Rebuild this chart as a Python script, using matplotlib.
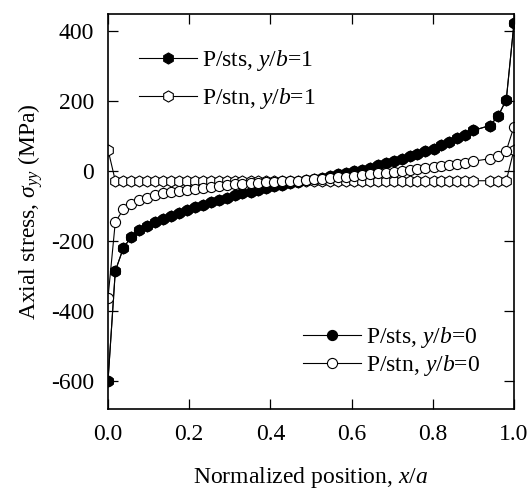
import matplotlib
matplotlib.use("Agg")
import matplotlib.pyplot as plt

plt.rcParams['font.family'] = ['Liberation Serif', 'DejaVu Serif']
plt.rcParams['mathtext.fontset'] = 'custom'
plt.rcParams['mathtext.rm'] = 'Liberation Serif'
plt.rcParams['mathtext.it'] = 'Liberation Serif:italic'
plt.rcParams['axes.unicode_minus'] = False

# normalized position x/a
x_pos = [0.0, 0.018, 0.038, 0.057, 0.077, 0.096, 0.116, 0.136, 0.155, 0.175,
         0.194, 0.214, 0.233, 0.253, 0.273, 0.292, 0.312, 0.331, 0.351, 0.370,
         0.390, 0.410, 0.429, 0.449, 0.468, 0.488, 0.508, 0.527, 0.547, 0.566,
         0.586, 0.606, 0.625, 0.645, 0.664, 0.684, 0.704, 0.723, 0.743, 0.762,
         0.782, 0.802, 0.821, 0.841, 0.860, 0.880, 0.900, 0.941, 0.961, 0.981,
         1.0]

# plane stress (same curve at y/b=0 and y/b=1)
sts = [-600, -285, -219, -188, -169, -157, -146, -136, -128, -119,
       -110, -102, -96, -87, -81, -75, -69, -63, -58, -53,
       -48, -43, -39, -34, -30, -26, -22, -18, -14, -9,
       -4, 0, 5, 10, 17, 23, 29, 36, 43, 50,
       57, 64, 74, 83, 95, 104, 117, 131, 158, 205,
       424]

# plane strain, y/b=0
stn_0 = [-362, -145, -109, -93, -83, -76, -69, -63, -59, -56,
         -53, -50, -47, -44, -41, -39, -37, -35, -34, -33,
         -32, -30, -29, -28, -27, -25, -23, -21, -19, -17,
         -15, -13, -11, -9, -6, -4, -1, 1, 4, 6,
         9, 12, 15, 18, 21, 25, 29, 36, 45, 59,
         128]

# plane strain, y/b=1
stn_1 = [62] + [-27] * 49 + [62]

fs = 17

fig = plt.figure(figsize=(5.3, 4.92), dpi=100)
ax = fig.add_axes([108/530, 1 - 409/492, 406/530, 395/492])

ms = 7.3
lw = 0.8
h1, = ax.plot(x_pos, sts, color='black', lw=lw, marker='h', ms=ms + 0.7,
              mfc='black', mec='black', mew=0.8, label='P/sts, $\\it{y/b}$=1')
h2, = ax.plot(x_pos, stn_1, color='black', lw=lw, marker='h', ms=ms + 0.7,
              mfc='white', mec='black', mew=0.8, label='P/stn, $\\it{y/b}$=1')
h3, = ax.plot(x_pos, sts, color='black', lw=lw, marker='o', ms=ms,
              mfc='black', mec='black', mew=0.8, label='P/sts, $\\it{y/b}$=0')
h4, = ax.plot(x_pos, stn_0, color='black', lw=lw, marker='o', ms=ms,
              mfc='white', mec='black', mew=0.8, label='P/stn, $\\it{y/b}$=0')

ax.set_xlim(0, 1)
ax.set_ylim(-680, 450)
ax.set_xticks([0.0, 0.2, 0.4, 0.6, 0.8, 1.0])
ax.set_yticks([-600, -400, -200, 0, 200, 400])
ax.set_xticklabels(['0.0', '0.2', '0.4', '0.6', '0.8', '1.0'])
ax.tick_params(direction='in', length=7, width=0.9, top=True, right=True,
               labelsize=fs)
ax.tick_params(axis='x', pad=11)
ax.tick_params(axis='y', pad=10)
for s in ax.spines.values():
    s.set_linewidth(1.2)

ax.set_xlabel('Normalized position, $\\it{x/a}$', fontsize=fs, labelpad=14)
ax.set_ylabel('Axial stress, $\\sigma_{yy}$ (MPa)', fontsize=fs, labelpad=4)

leg1 = ax.legend(handles=[h1, h2], loc='upper left', bbox_to_anchor=(0.077, 0.914),
                 frameon=False, fontsize=fs, numpoints=1, handlelength=2.45,
                 handletextpad=0.22, labelspacing=0.55, borderpad=0, borderaxespad=0)
ax.add_artist(leg1)
ax.legend(handles=[h3, h4], loc='upper left', bbox_to_anchor=(0.48, 0.213),
          frameon=False, fontsize=fs, numpoints=1, handlelength=2.45,
          handletextpad=0.22, labelspacing=0.13, borderpad=0, borderaxespad=0)

fig.savefig('out.png', dpi=100)
